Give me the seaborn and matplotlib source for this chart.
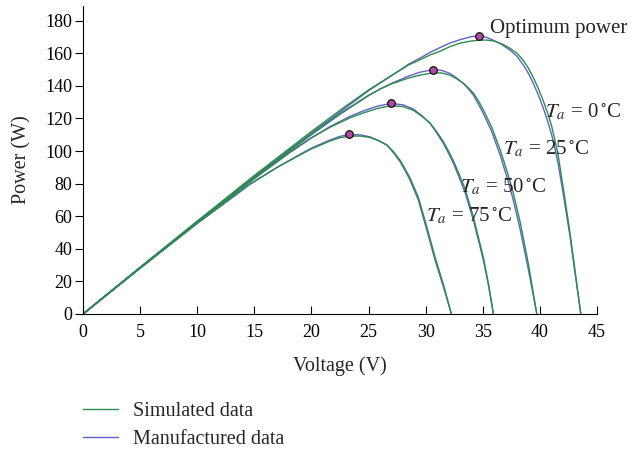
import matplotlib
matplotlib.use("Agg")
import matplotlib.pyplot as plt
from matplotlib.lines import Line2D
import numpy as np
import pandas as pd
import seaborn as sns

# ---------------- data ----------------
temps = [0, 25, 50, 75]

v_t0 = [0, 5, 10, 15, 20, 22.5, 25, 27.5, 28.5, 29.5, 30.4, 31.26, 32.1, 33.0, 34.0, 34.65, 35.3,
        35.93, 36.66, 37.39, 38.0, 38.56, 39.0, 39.43, 39.87, 40.31, 40.68, 41.04, 41.33, 41.62,
        42.12, 42.64, 43.1, 43.58]
man_t0 = [0, 28.5, 56.5, 84, 111, 124, 137, 148.5, 153.3, 157, 160.6, 163.5, 166.2, 168.3, 170.2,
          170.6, 169.8, 168.0, 165.4, 161.9, 158.1, 152.7, 147.6, 141.4, 134.3, 126.1, 118.3,
          109.7, 101, 91.4, 70.5, 47.4, 24, 0]
sim_t0 = [0, 28.7, 57, 85, 112, 125, 137.5, 148.5, 152.8, 156, 159.0, 161.2, 164, 166.2, 167.5,
          168.0, 168.1, 167.6, 165.8, 163.0, 160, 155.5, 150.8, 145, 138.3, 130.5, 123.2,
          115, 106.2, 96.5, 74, 49.5, 25.5, 0]

v_t25 = [0, 5, 10, 15, 20, 22.5, 25, 26.0, 27.0, 28.5, 29.51, 30.67, 31.4, 32.14, 32.7, 33.30,
         33.74, 34.18, 34.6, 35.05, 35.79, 36.52, 37.16, 37.63, 38.27, 39.0, 39.73]
man_t25 = [0, 28.3, 56.3, 83.5, 110, 122.5, 134, 138.0, 141.5, 146, 148.4, 150.0, 149.5, 147.6,
           144.9, 141.4, 138.1, 134.3, 129, 123.0, 111.8, 97.5, 83, 71, 52, 27, 0]
sim_t25 = [0, 28.5, 56.8, 84.3, 110.8, 123, 134.2, 138.0, 141.2, 144.8, 146.6, 148.0, 147.9, 146.5,
           144.4, 141.6, 138.8, 135.5, 131, 125.3, 114.5, 100.8, 86.8, 75.4, 56.5, 30.5, 0]

v_t50 = [0, 5, 10, 15, 18, 20, 21.63, 23.38, 24.54, 25.8, 26.94, 28.0, 28.92, 29.65, 30.39,
         30.97, 31.55, 31.99, 32.43, 32.94, 33.45, 34.18, 35.05, 35.5, 35.93]
man_t50 = [0, 28.3, 56, 83, 98.5, 108, 115, 121.3, 124.6, 127.6, 129.2, 128.4, 125.8, 121.8, 116.9,
           111.1, 104.7, 98.8, 92.4, 83.7, 74.5, 57.6, 33.1, 17.5, 0]
sim_t50 = [0, 28.4, 56.2, 83.3, 98.8, 108.2, 114.6, 120.4, 123.4, 126.2, 127.8, 127.3, 125.0, 121.5,
           117.2, 111.8, 105.8, 100.1, 94, 85.6, 76.8, 59.5, 34.8, 18.5, 0]

v_t75 = [0, 5, 10, 14.62, 17, 19, 20, 21.63, 22.46, 23.29, 24.3, 25.13, 25.86, 26.59, 27.18,
         27.76, 28.2, 28.63, 29.36, 30.1, 30.82, 31.6, 32.25]
man_t75 = [0, 28, 55.5, 79.5, 90, 98, 101.8, 106.8, 108.9, 110.2, 109.9, 108.7, 106.5, 103.6, 99,
           93.4, 88, 82.2, 69.9, 51.5, 33.1, 15.5, 0]
sim_t75 = [0, 28.2, 55.8, 79.8, 90, 97.6, 101.3, 106.2, 108.1, 109.2, 109.2, 108.3, 106.4, 103.9,
           99.6, 94.4, 89.1, 83.5, 71.6, 53.5, 35, 17, 0]

opt_v = [34.65, 30.67, 26.94, 23.29]
opt_p = [170.6, 150.0, 129.2, 110.2]

x_ticks = [0, 5, 10, 15, 20, 25, 30, 35, 40, 45]
y_ticks = [0, 20, 40, 60, 80, 100, 120, 140, 160, 180]
legend_labels = ["Simulated data", "Manufactured data"]
temp_labels = [r"$T_a$ = 0$\,^{\circ}$C", r"$T_a$ = 25$\,^{\circ}$C",
               r"$T_a$ = 50$\,^{\circ}$C", r"$T_a$ = 75$\,^{\circ}$C"]

# ---------------- long-form table ----------------
curves = {0: (v_t0, man_t0, sim_t0), 25: (v_t25, man_t25, sim_t25),
          50: (v_t50, man_t50, sim_t50), 75: (v_t75, man_t75, sim_t75)}
rows = []
for t in temps:
    v, pm, ps = curves[t]
    for a, b in zip(v, pm):
        rows.append({"V": a, "P": b, "temp": t, "source": "Manufactured data"})
    for a, b in zip(v, ps):
        rows.append({"V": a, "P": b, "temp": t, "source": "Simulated data"})
df = pd.DataFrame(rows)

# ---------------- style ----------------
sns.set_style("ticks")
plt.rcParams["font.family"] = ["Liberation Serif", "DejaVu Serif"]
plt.rcParams["mathtext.fontset"] = "stix"

green = "#2e8b4e"
blue = "#5e63c6"
mcol = "#b04aa0"

fig = plt.figure(figsize=(6.34, 4.51), dpi=100)
ax = fig.add_axes([83 / 634, 1 - 314 / 451, (597 - 83) / 634, (314 - 6) / 451])

sns.lineplot(data=df, x="V", y="P", hue="source", units="temp", estimator=None, sort=False,
             hue_order=["Manufactured data", "Simulated data"],
             palette={"Manufactured data": blue, "Simulated data": green},
             linewidth=1.0, legend=False, ax=ax)
sns.scatterplot(x=opt_v, y=opt_p, s=30, color=mcol, edgecolor="black", linewidth=0.8,
                zorder=5, ax=ax, legend=False)

ax.set_xlim(0, 45)
ax.set_ylim(0, 189)
ax.set_xticks(x_ticks)
ax.set_yticks(y_ticks)
sns.despine(ax=ax)
for s in ["left", "bottom"]:
    ax.spines[s].set_linewidth(0.8)
    ax.spines[s].set_color("black")
ax.tick_params(axis="x", direction="in", length=6, width=0.8, pad=7, labelsize=13, colors="black")
ax.tick_params(axis="y", direction="out", length=6, width=0.8, pad=1.5, labelsize=13, colors="black")
ax.set_xlabel("Voltage (V)", fontsize=14.5, labelpad=11)
ax.set_ylabel("Power (W)", fontsize=14.5, labelpad=10)

ax.text(35.64, 172.7, "Optimum power", fontsize=15, ha="left", va="baseline")
label_pos = [(40.46, 120.6), (36.78, 98.1), (33.01, 74.6), (30.04, 57.0)]
for (x, y), lab in zip(label_pos, temp_labels):
    ax.text(x, y, lab, fontsize=15, ha="left", va="baseline")

handles = [Line2D([], [], color=green, lw=1.0), Line2D([], [], color=blue, lw=1.0)]
fig.legend(handles=handles, labels=legend_labels, loc="center left",
           bbox_to_anchor=(83 / 634, (451 - 425.5) / 451), frameon=False, fontsize=14.5,
           handlelength=1.75, handletextpad=0.75, labelspacing=0.4, borderpad=0, borderaxespad=0)

fig.savefig("out.png", dpi=100)
